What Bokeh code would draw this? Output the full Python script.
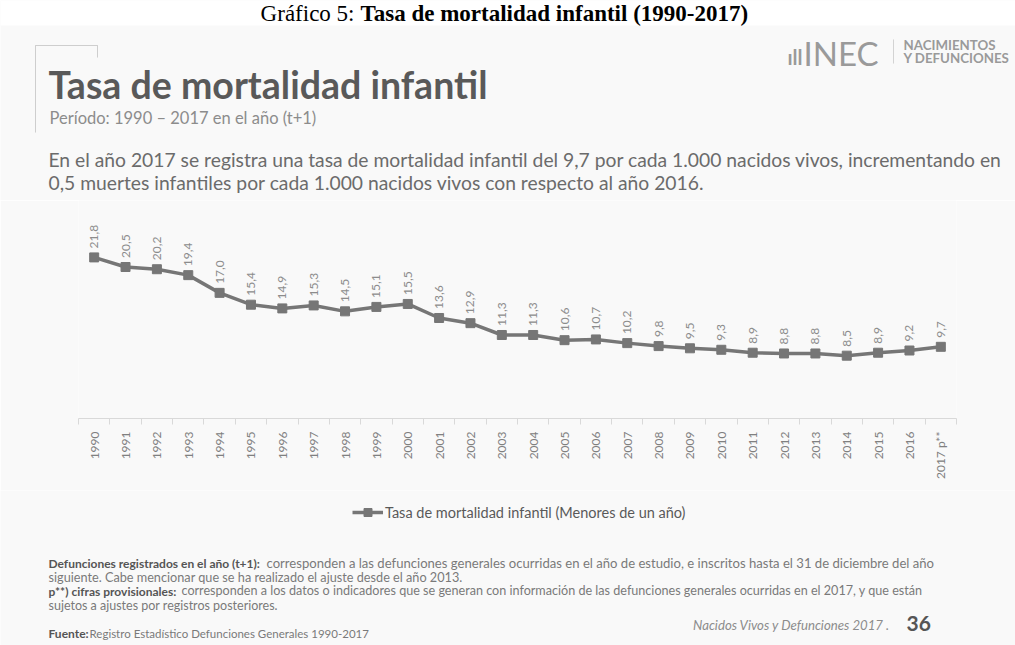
import math
from bokeh.plotting import figure
from bokeh.layouts import column
from bokeh.models import (Range1d, FixedTicker, Label, Legend, LegendItem,
                          ColumnDataSource, PolyAnnotation, BoxAnnotation)
from bokeh.core.properties import value
from bokeh.embed import file_html
from bokeh.resources import INLINE

# ---- data ----
years = ["1990", "1991", "1992", "1993", "1994", "1995", "1996", "1997", "1998",
         "1999", "2000", "2001", "2002", "2003", "2004", "2005", "2006", "2007",
         "2008", "2009", "2010", "2011", "2012", "2013", "2014", "2015", "2016",
         "2017 p**"]
tasa = [21.8, 20.5, 20.2, 19.4, 17.0, 15.4, 14.9, 15.3, 14.5, 15.1, 15.5, 13.6,
        12.9, 11.3, 11.3, 10.6, 10.7, 10.2, 9.8, 9.5, 9.3, 8.9, 8.8, 8.8, 8.5,
        8.9, 9.2, 9.7]
series_name = "Tasa de mortalidad infantil (Menores de un año)"

idx = list(range(len(years)))
labels = [f"{v:.1f}".replace(".", ",") for v in tasa]
src = ColumnDataSource(dict(x=idx, y=tasa, lab=labels))

W, H = 1015, 645
FL, FR, FT, FB = 78, 956, 200, 418   # chart frame in page pixels
AX_END = 490                          # bottom of the chart figure (axis panel)
BG = "#f9f9f9"
FONT = "Lato"
COL = "#767676"


def base_fig(top, bottom):
    f = figure(width=W, height=bottom - top, output_backend="svg",
               toolbar_location=None, x_range=Range1d(0, W),
               y_range=Range1d(bottom, top), x_axis_location=None,
               y_axis_location=None, min_border=0, frame_align=False)
    f.background_fill_color = BG
    f.border_fill_color = BG
    f.outline_line_color = None
    f.grid.visible = False
    return f


def lab(f, text, cx, cy, size, color, style="normal", font=FONT, align="left"):
    # cy is the wanted baseline; compensate the renderer's baseline offset
    f.add_layout(Label(x=cx, y=cy - 0.36 * size, text=text, text_font=font,
                       text_font_size=f"{size}px", text_color=color,
                       text_font_style=style, text_align=align,
                       text_baseline="alphabetic"))


# ---------- header figure ----------
top = base_fig(0, FT)
top.add_layout(BoxAnnotation(left=0, right=W, top=0, bottom=25,
                             fill_color="white", fill_alpha=1, line_color=None))
lab(top, "Gráfico 5:", 354, 21, 23, "black", font="Liberation Serif", align="right")
lab(top, "Tasa de mortalidad infantil (1990-2017)", 360, 21, 23, "black", "bold",
    font="Liberation Serif")
top.add_layout(PolyAnnotation(xs=[35, 35, 97, 97, 97, 35], ys=[132, 45, 45, 57, 45, 45],
                              fill_alpha=0, line_color="#a6a6a6", line_width=1))
lab(top, "Tasa de mortalidad infantil", 48, 97, 37.5, "#595959", "bold")
lab(top, "Período: 1990 – 2017 en el año (t+1)", 49, 123, 16.5, "#8c8c8c")
lab(top, "En el año 2017 se registra una tasa de mortalidad infantil del 9,7 por cada "
    "1.000 nacidos vivos, incrementando en", 48, 166, 19.3, "#6b6b6b")
lab(top, "0,5 muertes infantiles por cada 1.000 nacidos vivos con respecto al año 2016.",
    48, 189, 19.3, "#6b6b6b")
# logo
lab(top, "ıll", 787, 64, 20, "#9a9a9a", "bold")
lab(top, "INEC", 803, 64, 33, "#9a9a9a")
top.add_layout(PolyAnnotation(xs=[893, 893, 893], ys=[39, 63, 39], fill_alpha=0,
                              line_color="#b0b0b0", line_width=1))
lab(top, "NACIMIENTOS", 903, 49, 13.3, "#9a9a9a", "bold")
lab(top, "Y DEFUNCIONES", 903, 62, 13.3, "#9a9a9a", "bold")

# ---------- chart figure ----------
p = figure(width=W, height=AX_END - FT, output_backend="svg", toolbar_location=None,
           x_range=Range1d(-0.5, len(years) - 0.5), y_range=Range1d(0, 29.5),
           y_axis_location=None, min_border_left=FL, min_border_right=W - FR,
           min_border_top=0, min_border_bottom=AX_END - FB, frame_align=False)
p.background_fill_color = BG
p.border_fill_color = BG
p.outline_line_color = None
p.grid.visible = False

ax = p.xaxis[0]
ax.ticker = FixedTicker(ticks=idx, minor_ticks=[i - 0.5 for i in range(len(years) + 1)])
ax.major_label_overrides = {i: y for i, y in enumerate(years)}
ax.major_label_orientation = math.pi / 2
ax.major_tick_out = 0
ax.major_tick_in = 0
ax.minor_tick_out = 6
ax.minor_tick_in = 0
ax.minor_tick_line_color = "#d9d9d9"
ax.axis_line_color = "#d9d9d9"
ax.major_label_text_color = "#808080"
ax.major_label_text_font = FONT
ax.major_label_text_font_size = "12px"
ax.major_label_standoff = 7

p.line("x", "y", source=src, line_color=COL, line_width=3.5)
p.scatter("x", "y", source=src, marker="square", size=9, fill_color=COL, line_color=COL)
p.text("x", "y", text="lab", source=src, angle=math.pi / 2, y_offset=-9,
       text_align="left", text_baseline="middle", text_color="#8c8c8c",
       text_font=value(FONT), text_font_size="12px")

# ---------- footer figure (legend + notes) ----------
bot = base_fig(AX_END, H)
# same series glyphs (fall outside this panel's pixel ranges) used as legend samples
l_leg = bot.line("x", "y", source=src, line_color=COL, line_width=3.5)
s_leg = bot.scatter("x", "y", source=src, marker="square", size=9,
                    fill_color=COL, line_color=COL)
leg = Legend(items=[LegendItem(label=series_name, renderers=[l_leg, s_leg])],
             location=(352, H - 522), orientation="horizontal",
             background_fill_alpha=0, border_line_color=None, padding=0, margin=0,
             glyph_width=31, glyph_height=20, label_height=20,
             label_text_font=FONT, label_text_font_size="14.5px",
             label_text_color="#595959", label_standoff=2)
bot.add_layout(leg, "center")

lab(bot, "Defunciones registrados en el año (t+1):", 48, 567, 12, "#555555", "bold")
lab(bot, "corresponden a las defunciones generales ocurridas en el año de estudio, e "
    "inscritos hasta el 31 de diciembre del año", 266, 567, 13.1, "#7a7a7a")
lab(bot, "siguiente. Cabe mencionar que se ha realizado el ajuste desde el año 2013.",
    48, 581, 12.7, "#7a7a7a")
lab(bot, "p**) cifras provisionales:", 48, 595, 12, "#555555", "bold")
lab(bot, "corresponden a los datos o indicadores que se generan con información de las "
    "defunciones generales ocurridas en el 2017, y que están", 181, 595, 12.6, "#7a7a7a")
lab(bot, "sujetos a ajustes por registros posteriores.", 48, 609, 12.5, "#7a7a7a")
lab(bot, "Fuente:", 48, 637, 12, "#555555", "bold")
lab(bot, "Registro Estadístico Defunciones Generales 1990-2017", 89, 637, 11.5, "#7a7a7a")
lab(bot, "Nacidos Vivos  y  Defunciones 2017  .", 899, 629, 13.2, "#8c8c8c", "italic",
    align="right")
lab(bot, "36", 906, 631, 21, "#555555", "bold")

page = column(top, p, bot, spacing=0)
open("out.html", "w").write(file_html(page, INLINE))
